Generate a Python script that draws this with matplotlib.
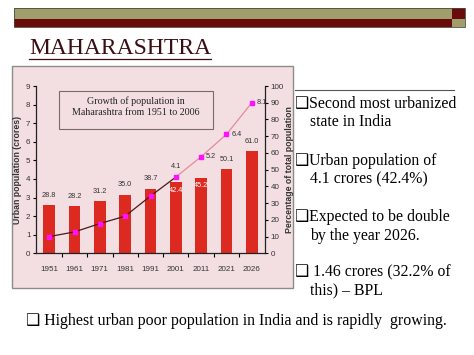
import matplotlib
matplotlib.use("Agg")
import matplotlib.pyplot as plt
from matplotlib.patches import Rectangle
from matplotlib.lines import Line2D
import numpy as np

# chart data
years = ["1951", "1961", "1971", "1981", "1991", "2001", "2011", "2021", "2026"]
urban_pct = [28.8, 28.2, 31.2, 35.0, 38.7, 42.4, 45.2, 50.1, 61.0]
urban_crores = [0.9, 1.15, 1.6, 2.0, 3.08, 4.1, 5.2, 6.4, 8.1]
pct_labels = ["28.8", "28.2", "31.2", "35.0", "38.7", "42.4", "45.2", "50.1", "61.0"]
crore_labels = ["", "", "", "", "", "4.1", "5.2", "6.4", "8.1"]

bullets = [
    ("Second most urbanized", "state in India"),
    ("Urban population of", "4.1 crores (42.4%)"),
    ("Expected to be double", "by the year 2026."),
    (" 1.46 crores (32.2% of", "this) \u2013 BPL"),
]
bottom_note = "Highest urban poor population in India and is rapidly  growing."

W, H = 474, 355
SERIF = ["Liberation Serif", "DejaVu Serif"]
NARROW = ["Liberation Sans Narrow", "Liberation Sans", "DejaVu Sans"]
BOX = "\u2751"


def fx(x):
    return x / W


def fy(y):
    return 1 - y / H


fig = plt.figure(figsize=(W / 100, H / 100), dpi=100)
fig.patch.set_facecolor("white")


def add_rect(x0, y0, x1, y1, **kw):
    # pixel box (top-left origin) -> figure patch
    r = Rectangle((fx(x0), fy(y1)), (x1 - x0) / W, (y1 - y0) / H,
                  transform=fig.transFigure, **kw)
    fig.patches.append(r)
    return r


# header band
olive = "#a19e6e"
maroon = "#6a0a0a"
add_rect(14, 8, 452, 19.3, facecolor=olive, edgecolor="none")
add_rect(14, 19.3, 452, 26.7, facecolor=maroon, edgecolor="none")
add_rect(452, 8, 465, 19.3, facecolor=maroon, edgecolor="none")
add_rect(452, 19.3, 465, 26.7, facecolor=olive, edgecolor="none")
add_rect(14, 8, 465, 26.7, facecolor="none", edgecolor="#4a4a3a", linewidth=0.6)

# title
fig.text(fx(29), fy(48), "MAHARASHTRA", family=SERIF, fontsize=17, color="#3b0e14",
         va="center", ha="left")
fig.add_artist(Line2D([fx(29), fx(211)], [fy(58.5), fy(58.5)], color="#3b0e14", linewidth=0.9))

# chart panel (behind the axes)
add_rect(12, 66, 293, 287.5, facecolor="#f3dfe2", edgecolor="#8c8c8c", linewidth=1.0, zorder=-2)

ax = fig.add_axes([fx(36), fy(253.3), (265 - 36) / W, (253.3 - 86) / H])
ax.set_zorder(1)
ax.patch.set_alpha(0)
ax2 = ax.twinx()

x = np.arange(len(years))
bars = ax.bar(x, urban_pct, width=0.45, color="#dc2a20", zorder=2)
ax.set_ylim(0, 100)
ax.set_xlim(-0.52, len(years) - 0.48)
ax.yaxis.tick_right()
ax.yaxis.set_label_position("right")
ax.set_yticks(np.arange(0, 101, 10))
ax.set_ylabel("Percentage of total population", family=NARROW, fontsize=6.3,
              fontweight="bold", color="#333333", labelpad=1)
ax.set_xticks(x)
ax.set_xticklabels(years, family=NARROW, fontsize=5.8, color="#333333")
ax.set_xticks(x[:-1] + 0.5, minor=True)
ax.tick_params(axis="x", which="major", length=0, pad=9.5)
ax.tick_params(axis="x", which="minor", length=3, direction="out", width=0.8)
ax.tick_params(axis="y", length=2.5, width=0.8, pad=1.5, labelsize=5.8, labelcolor="#333333")
for lab in ax.get_yticklabels():
    lab.set_family(NARROW)
for side in ["top", "left", "right"]:
    ax.spines[side].set_visible(False)
ax.spines["bottom"].set_color("#222222")
ax.spines["bottom"].set_linewidth(0.9)

for b, lab in zip(bars, pct_labels):
    cx = b.get_x() + b.get_width() / 2
    if lab in ("42.4", "45.2"):
        ax.annotate(lab, (cx, b.get_height()), xytext=(0, -3), textcoords="offset points",
                    ha="center", va="top", fontsize=5.3, family=NARROW, color="white", zorder=3)
    else:
        ax.annotate(lab, (cx, b.get_height()), xytext=(0, 4.5), textcoords="offset points",
                    ha="center", va="bottom", fontsize=5.3, family=NARROW, color="#333333",
                    zorder=3)

# line on left scale
ax2.yaxis.tick_left()
ax2.yaxis.set_label_position("left")
ax2.set_ylim(0, 9)
ax2.set_yticks(np.arange(0, 10, 1))
ax2.set_ylabel("Urban population (crores)", family=NARROW, fontsize=6.3,
               fontweight="bold", color="#333333", labelpad=2.5)
ax2.tick_params(axis="y", length=2.5, width=0.8, pad=1.5, labelsize=5.8, labelcolor="#333333")
for lab in ax2.get_yticklabels():
    lab.set_family(NARROW)
ax2.spines["top"].set_visible(False)
ax2.spines["bottom"].set_visible(False)
for side in ["left", "right"]:
    ax2.spines[side].set_color("#222222")
    ax2.spines[side].set_linewidth(0.9)

ax2.plot(x[:6], urban_crores[:6], color="#4a1a1a", linewidth=0.9, zorder=3)
ax2.plot(x[5:], urban_crores[5:], color="#e58a9a", linewidth=0.9, zorder=3)
ax2.plot(x, urban_crores, linestyle="none", marker="s", markersize=3.2,
         color="#ff10ff", zorder=4)
for i, lab in enumerate(crore_labels):
    if not lab:
        continue
    if lab == "4.1":
        ax2.annotate(lab, (x[i], urban_crores[i]), xytext=(0, 5), textcoords="offset points",
                     ha="center", va="bottom", fontsize=5.3, family=NARROW, color="#333333")
    else:
        ax2.annotate(lab, (x[i], urban_crores[i]), xytext=(3.5, 0), textcoords="offset points",
                     ha="left", va="center", fontsize=5.3, family=NARROW, color="#333333")

# chart title box
add_rect(59, 91, 213, 129, facecolor="none", edgecolor="#7a6a6a", linewidth=0.8, zorder=3)
fig.text(fx(136), fy(107), "Growth of population in\nMaharashtra from 1951 to 2006",
         family=SERIF, fontsize=7.2, ha="center", va="center", linespacing=1.25,
         color="#222222", zorder=4)

# right text panel
fig.add_artist(Line2D([fx(295), fx(454)], [fy(90), fy(90)], color="#555555", linewidth=0.8))
tops = [104, 161, 217, 272]
for (l1, l2), yy in zip(bullets, tops):
    fig.text(fx(295), fy(yy), BOX + l1, family=SERIF + ["DejaVu Sans"],
             fontsize=11.3, va="center", ha="left", color="black")
    fig.text(fx(310.5), fy(yy + 18.5), l2, family=SERIF, fontsize=11.3,
             va="center", ha="left", color="black")

fig.text(fx(26), fy(321), BOX + " " + bottom_note, family=SERIF + ["DejaVu Sans"],
         fontsize=11.4, va="center", ha="left", color="black")

fig.savefig("out.png", dpi=100)
